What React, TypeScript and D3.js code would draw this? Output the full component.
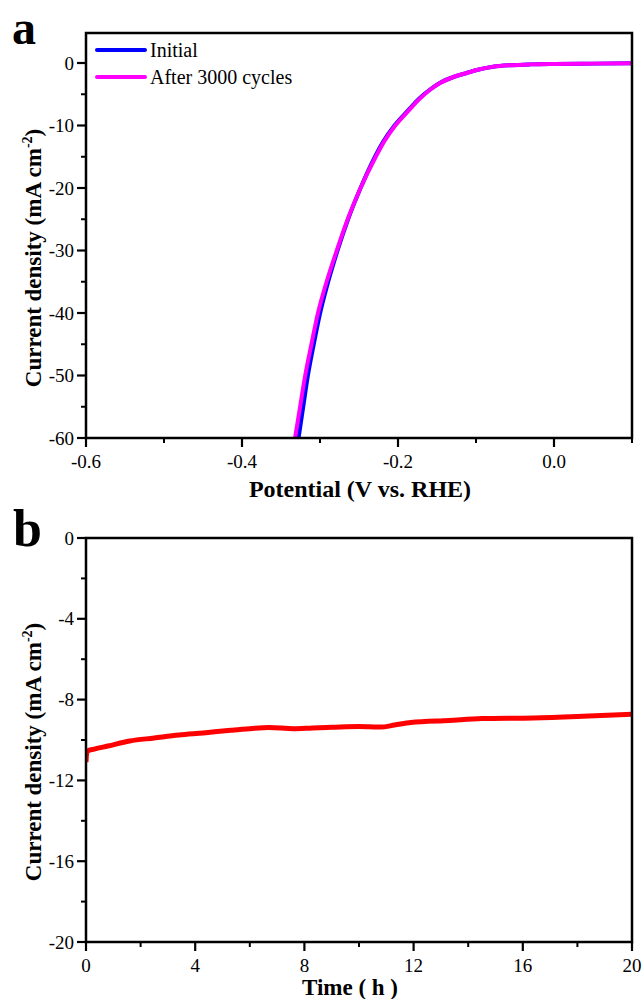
import React from "react";
import * as d3 from "d3";

// Panel a: LSV curves (current in mA cm-2, potential in V vs. RHE)
const curLevels = [-60, -55, -50, -45, -40, -35, -30, -25, -20, -15, -12.5, -10, -7.5, -5.7, -4.2, -3.2, -2.2, -1.6, -1.0, -0.6, -0.35, -0.22, -0.15, -0.1, -0.05];
const potInitial = [-0.3275, -0.3215, -0.3155, -0.308, -0.2998, -0.2895, -0.2775, -0.264, -0.248, -0.2295, -0.2185, -0.2045, -0.1865, -0.173, -0.1585, -0.1465, -0.128, -0.112, -0.095, -0.078, -0.055, -0.03, 0.0, 0.05, 0.1];
const potAfter = [-0.332, -0.3255, -0.319, -0.311, -0.3026, -0.2915, -0.2785, -0.2645, -0.248, -0.2285, -0.2175, -0.2035, -0.1855, -0.172, -0.158, -0.146, -0.128, -0.112, -0.095, -0.078, -0.055, -0.03, 0.0, 0.05, 0.1];
const seriesNames = ["Initial", "After 3000 cycles"];
const seriesColors = ["#0000ff", "#ff00ff"];
const xTicksA = [-0.6, -0.4, -0.2, 0.0];
const xMinorA = [-0.5, -0.3, -0.1, 0.1];
const yTicksA = [0, -10, -20, -30, -40, -50, -60];
const yMinorA = [-5, -15, -25, -35, -45, -55];

// Panel b: chronoamperometry
const timeH = [0, 0.02, 0.05, 0.3, 0.8, 1.6, 2.5, 3.4, 4.3, 5.3, 6.0, 6.7, 7.6, 8.3, 9.0, 10.0, 10.8, 11.3, 11.9, 13.3, 14.5, 16.4, 18.2, 20];
const currentB = [-11.1, -10.7, -10.55, -10.45, -10.3, -10.05, -9.9, -9.75, -9.65, -9.52, -9.44, -9.38, -9.44, -9.4, -9.37, -9.33, -9.36, -9.26, -9.13, -9.03, -8.94, -8.91, -8.83, -8.73];
const xTicksB = [0, 4, 8, 12, 16, 20];
const xMinorB = [2, 6, 10, 14, 18];
const yTicksB = [0, -4, -8, -12, -16, -20];
const yMinorB = [-2, -6, -10, -14, -18];

const SERIF = "'Liberation Serif', 'Times New Roman', serif";
const L = 86, R = 632;
const TICK_FS = 19;

function Frame({ x, y, top, bottom, xMajor, xMinor, yMajor, yMinor, xFmt, yFmt }: any) {
  return (
    <g>
      {yMinor.map((v: number, i: number) => (
        <line key={"ym" + i} x1={L - 5} x2={L} y1={y(v)} y2={y(v)} stroke="#000" strokeWidth={2} />
      ))}
      {yMajor.map((v: number, i: number) => (
        <g key={"yM" + i}>
          <line x1={L - 9} x2={L} y1={y(v)} y2={y(v)} stroke="#000" strokeWidth={2.2} />
          <text x={L - 12} y={y(v)} dy="0.35em" textAnchor="end" fontFamily={SERIF} fontSize={TICK_FS}>{yFmt(v)}</text>
        </g>
      ))}
      {xMinor.map((v: number, i: number) => (
        <line key={"xm" + i} x1={x(v)} x2={x(v)} y1={bottom} y2={bottom + 5} stroke="#000" strokeWidth={2} />
      ))}
      {xMajor.map((v: number, i: number) => (
        <g key={"xM" + i}>
          <line x1={x(v)} x2={x(v)} y1={bottom} y2={bottom + 9} stroke="#000" strokeWidth={2.2} />
          <text x={x(v)} y={bottom + 30} textAnchor="middle" fontFamily={SERIF} fontSize={TICK_FS}>{xFmt(v)}</text>
        </g>
      ))}
      <rect x={L} y={top} width={R - L} height={bottom - top} fill="none" stroke="#000" strokeWidth={2.5} />
    </g>
  );
}

export default function App() {
  const topA = 33, botA = 438;
  const xA = d3.scaleLinear().domain([-0.6, 0.1]).range([L, R]);
  const yA = d3.scaleLinear().domain([-60, 0]).range([botA, 63]);
  const lineA = d3.line<[number, number]>().x((d) => xA(d[0])).y((d) => yA(d[1])).curve(d3.curveMonotoneX);
  const dataInit: [number, number][] = potInitial.map((p, i) => [p, curLevels[i]]);
  const dataAfter: [number, number][] = potAfter.map((p, i) => [p, curLevels[i]]);

  const topB = 538, botB = 942;
  const xB = d3.scaleLinear().domain([0, 20]).range([L, R]);
  const yB = d3.scaleLinear().domain([-20, 0]).range([botB, topB]);
  const lineB = d3.line<number>().x((_, i) => xB(timeH[i])).y((d) => yB(d)).curve(d3.curveMonotoneX);

  const fmtA = (v: number) => (v === 0 ? "0.0" : d3.format(".1f")(v).replace("−", "-"));
  const fmtInt = (v: number) => String(v);

  const yTitle = (cx: number, cy: number) => (
    <text transform={`translate(${cx},${cy}) rotate(-90)`} textAnchor="middle" fontFamily={SERIF} fontSize={23} fontWeight="bold">
      Current density (mA cm<tspan dy="-9" fontSize={14}>-2</tspan><tspan dy="9">)</tspan>
    </text>
  );

  return (
    <svg width={644} height={999} style={{ position: "absolute", left: 0, top: 0, background: "#fff" }}>
      <rect width={644} height={999} fill="#fff" />
      <defs>
        <clipPath id="clipA"><rect x={L} y={topA} width={R - L} height={botA - topA} /></clipPath>
        <clipPath id="clipB"><rect x={L} y={topB - 2} width={R - L + 2} height={botB - topB + 4} /></clipPath>
      </defs>
      {/* Panel a */}
      <text x={12} y={44} fontFamily={SERIF} fontSize={48} fontWeight="bold">a</text>
      <g clipPath="url(#clipA)">
        <path d={lineA(dataInit) || ""} fill="none" stroke={seriesColors[0]} strokeWidth={4} />
        <path d={lineA(dataAfter) || ""} fill="none" stroke={seriesColors[1]} strokeWidth={4} />
      </g>
      <Frame x={xA} y={yA} top={topA} bottom={botA}
        xMajor={xTicksA} xMinor={xMinorA}
        yMajor={yTicksA} yMinor={yMinorA}
        xFmt={fmtA} yFmt={fmtInt} />
      {seriesNames.map((n, i) => (
        <g key={n}>
          <line x1={97} x2={145} y1={50 + i * 27} y2={50 + i * 27} stroke={seriesColors[i]} strokeWidth={4} strokeLinecap="round" />
          <text x={150} y={57 + i * 27} fontFamily={SERIF} fontSize={20}>{n}</text>
        </g>
      ))}
      {yTitle(41, 258)}
      <text x={360} y={497} textAnchor="middle" fontFamily={SERIF} fontSize={24} fontWeight="bold">Potential (V vs. RHE)</text>

      {/* Panel b */}
      <text x={13} y={546} fontFamily={SERIF} fontSize={52} fontWeight="bold">b</text>
      <g clipPath="url(#clipB)">
        <path d={lineB(currentB) || ""} fill="none" stroke="#ff0000" strokeWidth={5} />
      </g>
      <Frame x={xB} y={yB} top={topB} bottom={botB}
        xMajor={xTicksB} xMinor={xMinorB}
        yMajor={yTicksB} yMinor={yMinorB}
        xFmt={fmtInt} yFmt={fmtInt} />
      {yTitle(41, 752)}
      <text x={350} y={995} textAnchor="middle" fontFamily={SERIF} fontSize={23} fontWeight="bold">Time ( h )</text>
    </svg>
  );
}
